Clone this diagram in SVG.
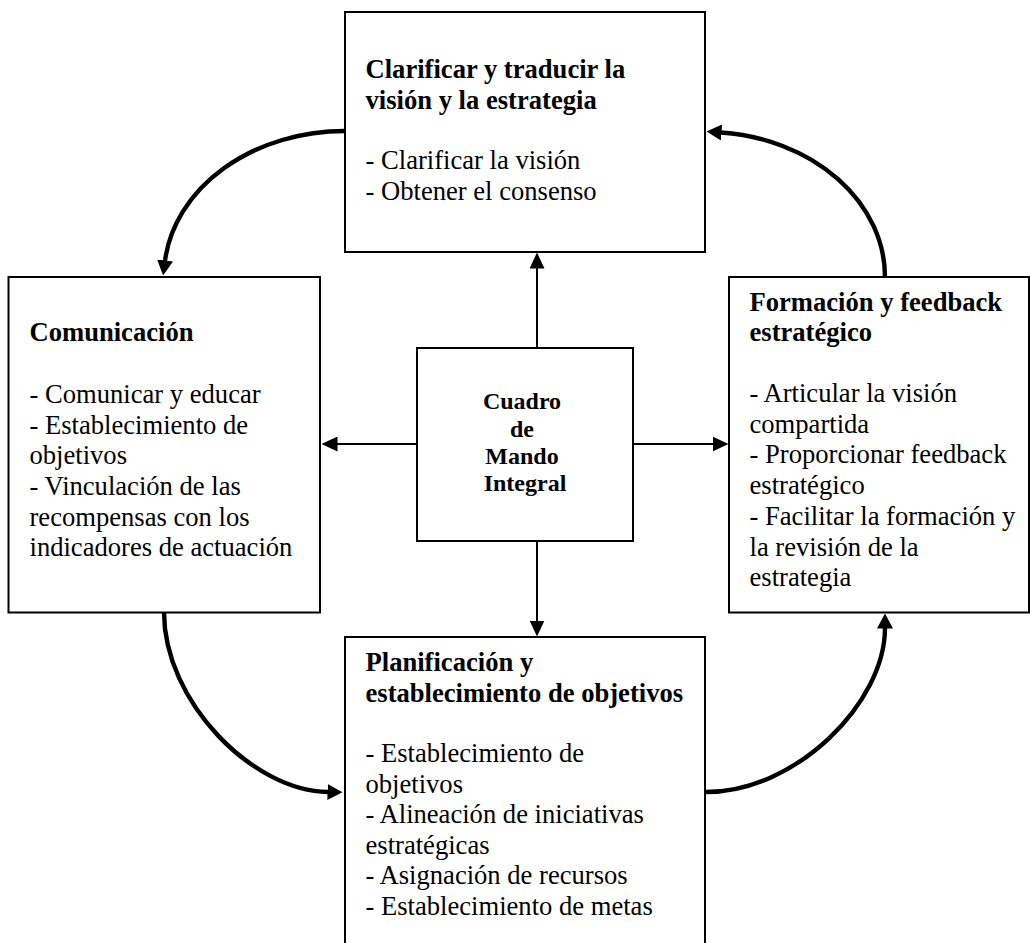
<svg xmlns="http://www.w3.org/2000/svg" width="1030" height="943" viewBox="0 0 1030 943">
  <style>
    .box { fill: #ffffff; stroke: #000000; stroke-width: 2; }
    .t { font-family: "Liberation Serif", "Times New Roman", serif; font-size: 26.6px; fill: #000000; }
    .b { font-weight: bold; }
    .c { font-family: "Liberation Serif", "Times New Roman", serif; font-size: 24px; font-weight: bold; fill: #000000; text-anchor: middle; }
    .thin { fill: none; stroke: #000000; stroke-width: 2; marker-end: url(#head-thin); }
    .thick { fill: none; stroke: #000000; stroke-width: 4.4; marker-end: url(#head-thick); }
  </style>
  <defs>
    <marker id="head-thin" markerUnits="userSpaceOnUse" markerWidth="16" markerHeight="15" viewBox="0 0 16 15" refX="0.5" refY="7.5" orient="auto">
      <path d="M0,0 L16,7.5 L0,15 Z" fill="#000000"/>
    </marker>
    <marker id="head-thick" markerUnits="userSpaceOnUse" markerWidth="15" markerHeight="16" viewBox="0 0 15 16" refX="0.5" refY="8" orient="auto">
      <path d="M0,0 L15,8 L0,16 Z" fill="#000000"/>
    </marker>
  </defs>

  <rect width="1030" height="943" fill="#ffffff"/>

  <!-- Connectors: centre box to the four processes, and the cycle between them -->
  <g id="connectors">
    <path class="thin" d="M537,348 V268"/>
    <path class="thin" d="M537,541 V621"/>
    <path class="thin" d="M417,444 H337"/>
    <path class="thin" d="M633,444 H713"/>
    <path class="thick" d="M345,131 A181,145 0 0 0 165,261"/>
    <path class="thick" d="M164,612 C164,702 253,791 328,792"/>
    <path class="thick" d="M706,792 C796,792 885,703 885,628"/>
    <path class="thick" d="M885,277 A179,145 0 0 0 721,132.5"/>
  </g>

  <g id="node-clarificar">
    <rect class="box" x="345" y="12" width="360" height="240"/>
    <text class="t b">
      <tspan x="365.5" y="77.7">Clarificar y traducir la</tspan>
      <tspan x="365.5" y="108.5">visión y la estrategia</tspan>
    </text>
    <text class="t">
      <tspan x="365.5" y="168.8">- Clarificar la visión</tspan>
      <tspan x="365.5" y="199.6">- Obtener el consenso</tspan>
    </text>
  </g>

  <g id="node-comunicacion">
    <rect class="box" x="8.5" y="277" width="311.5" height="335.5"/>
    <text class="t b"><tspan x="29.5" y="341">Comunicación</tspan></text>
    <text class="t">
      <tspan x="29.5" y="403">- Comunicar y educar</tspan>
      <tspan x="29.5" y="433.7">- Establecimiento de</tspan>
      <tspan x="29.5" y="464.3">objetivos</tspan>
      <tspan x="29.5" y="495">- Vinculación de las</tspan>
      <tspan x="29.5" y="525.7">recompensas con los</tspan>
      <tspan x="29.5" y="556.3">indicadores de actuación</tspan>
    </text>
  </g>

  <g id="node-formacion">
    <rect class="box" x="729" y="277" width="300" height="335.5"/>
    <text class="t b">
      <tspan x="749.5" y="311.3">Formación y feedback</tspan>
      <tspan x="749.5" y="341.3">estratégico</tspan>
    </text>
    <text class="t">
      <tspan x="749.5" y="402">- Articular la visión</tspan>
      <tspan x="749.5" y="432.7">compartida</tspan>
      <tspan x="749.5" y="463.4">- Proporcionar feedback</tspan>
      <tspan x="749.5" y="494.1">estratégico</tspan>
      <tspan x="749.5" y="524.8">- Facilitar la formación y</tspan>
      <tspan x="749.5" y="555.5">la revisión de la</tspan>
      <tspan x="749.5" y="586.2">estrategia</tspan>
    </text>
  </g>

  <g id="node-planificacion">
    <rect class="box" x="345" y="637" width="360" height="330"/>
    <text class="t b">
      <tspan x="365.5" y="671.3">Planificación y</tspan>
      <tspan x="365.5" y="702">establecimiento de objetivos</tspan>
    </text>
    <text class="t">
      <tspan x="365.5" y="762">- Establecimiento de</tspan>
      <tspan x="365.5" y="792.6">objetivos</tspan>
      <tspan x="365.5" y="823.2">- Alineación de iniciativas</tspan>
      <tspan x="365.5" y="853.8">estratégicas</tspan>
      <tspan x="365.5" y="884.4">- Asignación de recursos</tspan>
      <tspan x="365.5" y="915">- Establecimiento de metas</tspan>
    </text>
  </g>

  <g id="node-cuadro">
    <rect class="box" x="417" y="348" width="216" height="193"/>
    <text class="c">
      <tspan x="525" y="409">Cuadro</tspan>
      <tspan x="525" y="436.5">de</tspan>
      <tspan x="525" y="464">Mando</tspan>
      <tspan x="525" y="491">Integral</tspan>
    </text>
  </g>
</svg>
